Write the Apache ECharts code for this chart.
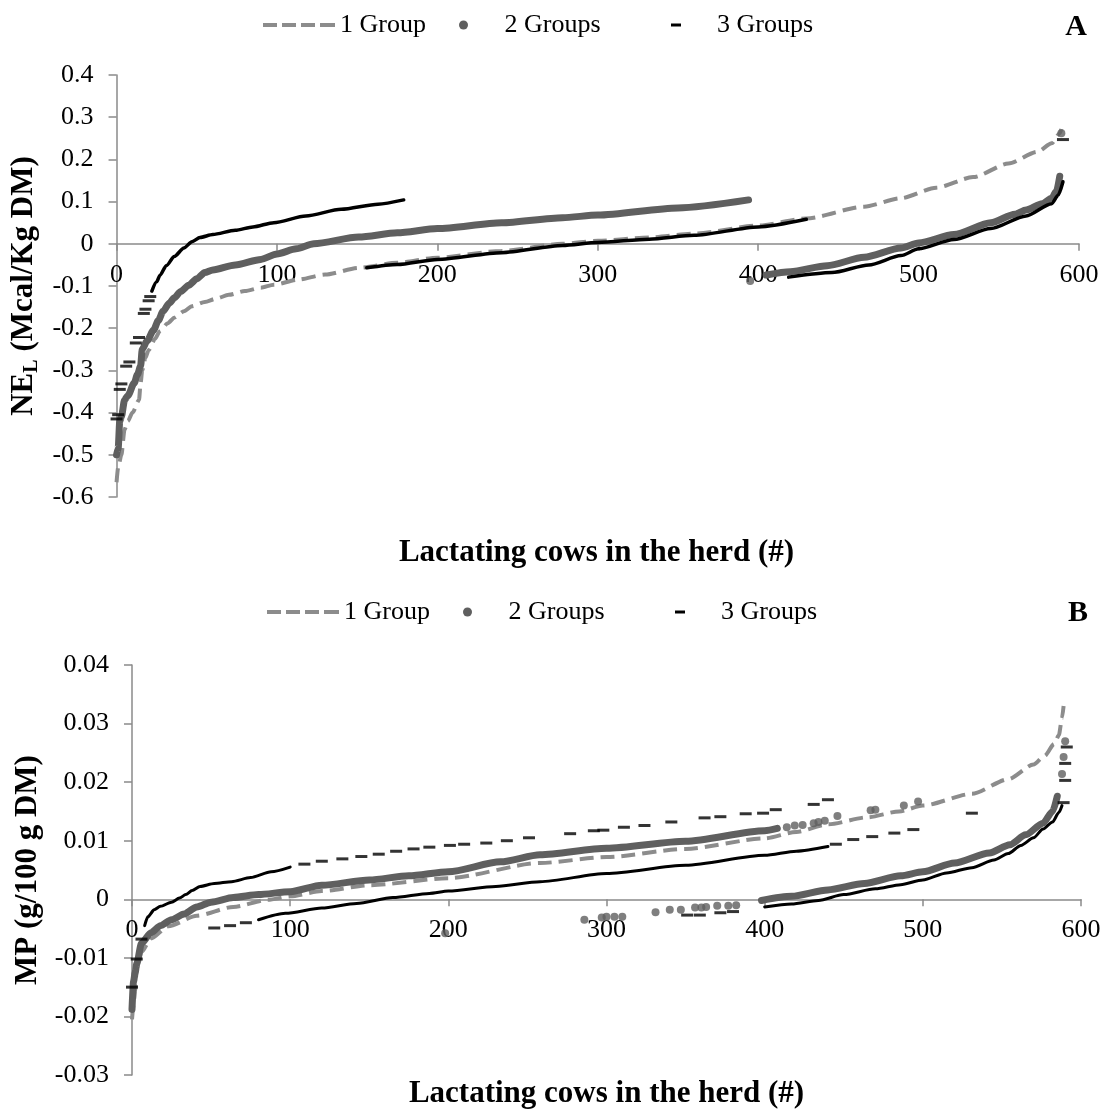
<!DOCTYPE html>
<html>
<head>
<meta charset="utf-8">
<script src="https://cdn.jsdelivr.net/npm/echarts@6/dist/echarts.min.js"></script>
<style>
  html, body { margin: 0; padding: 0; background: #ffffff; }
  #chart { width: 1104px; height: 1112px; }
</style>
</head>
<body>
<div id="chart"></div>
<script>
// Series names shared by both panels
const seriesNames = ['1 Group', '2 Groups', '3 Groups'];
const panelLetters = ['A', 'B'];
const xTitle = 'Lactating cows in the herd (#)';

// ---- Panel A: NE_L balance (Mcal/Kg DM) per cow, sorted ----
const neOneGroup = [[0,-0.565],[1,-0.53],[3,-0.5],[5,-0.44],[7,-0.42],[10,-0.4],[14,-0.37],[15,-0.33],[16,-0.3],[18,-0.27],[20,-0.252],[24,-0.225],[27,-0.207],[32,-0.188],[36,-0.175],[42,-0.16],[47,-0.148],[55,-0.138],[62,-0.13],[70,-0.121],[80,-0.112],[90,-0.104],[98,-0.097],[113,-0.085],[130,-0.073],[151,-0.057],[175,-0.045],[200,-0.033],[240,-0.017],[278,0.0],[300,0.007],[332,0.015],[360,0.024],[400,0.043],[430,0.06],[466,0.088],[489,0.108],[511,0.133],[534,0.158],[556,0.19],[574,0.218],[583,0.238],[588,0.262],[589,0.272]];
const neTwoGroupsFirst = [[0,-0.5],[1,-0.485],[2,-0.42],[3,-0.41],[5,-0.37],[7,-0.36],[11,-0.33],[13,-0.31],[15,-0.29],[16,-0.25],[19,-0.23],[23,-0.205],[26,-0.182],[29,-0.16],[33,-0.14],[36,-0.128],[40,-0.113],[45,-0.098],[50,-0.083],[55,-0.068],[60,-0.062],[74,-0.05],[90,-0.037],[100,-0.024],[112,-0.012],[123,0.0],[151,0.016],[175,0.026],[200,0.036],[240,0.05],[278,0.062],[300,0.068],[350,0.085],[394,0.104]];
const neTwoGroupsSecond = [[405,-0.074],[420,-0.066],[443,-0.052],[466,-0.032],[489,-0.01],[500,0.002],[522,0.022],[545,0.05],[560,0.07],[567,0.08],[577,0.095],[583,0.108],[586,0.125],[588,0.16]];
const neTwoGroupsDots = [[395,-0.088],[589,0.262]];
const neThreeGroupsFirst = [[22,-0.112],[25,-0.09],[27,-0.075],[31,-0.052],[36,-0.03],[42,-0.01],[47,0.005],[52,0.015],[60,0.022],[74,0.032],[85,0.04],[98,0.05],[118,0.066],[140,0.082],[163,0.094],[179,0.104]];
const neThreeGroupsSecond = [[156,-0.057],[175,-0.049],[200,-0.037],[240,-0.021],[278,-0.004],[300,0.003],[332,0.011],[360,0.02],[400,0.04],[430,0.058]];
const neThreeGroupsThird = [[419,-0.079],[446,-0.068],[469,-0.05],[489,-0.028],[500,-0.012],[522,0.01],[545,0.036],[567,0.066],[583,0.095],[587,0.115],[590,0.147]];
const neThreeGroupsDashes = [[0,-0.415],[1,-0.405],[2,-0.345],[3,-0.332],[6,-0.29],[8,-0.28],[12,-0.235],[14,-0.222],[17,-0.165],[18,-0.155],[20,-0.135],[21,-0.125],[590,0.247]];

// ---- Panel B: MP balance (g/100 g DM) per cow, sorted ----
const mpOneGroup = [[0,-0.0205],[1,-0.018],[2,-0.0155],[3,-0.0118],[6,-0.009],[12,-0.0067],[23,-0.0046],[41,-0.0028],[64,-0.0013],[86,-0.0001],[100,0.0005],[120,0.0014],[150,0.0024],[200,0.0036],[258,0.0062],[300,0.0072],[350,0.0086],[400,0.0104],[420,0.0115],[440,0.0128],[465,0.014],[485,0.015],[500,0.016],[531,0.018],[554,0.0205],[570,0.023],[577,0.0245],[583,0.0265],[586,0.028],[588,0.031],[589,0.033]];
const mpTwoGroupsFirst = [[0,-0.0188],[1,-0.014],[2,-0.0125],[3,-0.011],[6,-0.0075],[12,-0.0057],[18,-0.0045],[25,-0.0035],[33,-0.0025],[41,-0.0013],[50,-0.0005],[64,0.0003],[80,0.0008],[100,0.0013],[120,0.0024],[150,0.0033],[175,0.004],[200,0.0047],[233,0.0064],[258,0.0076],[300,0.0087],[350,0.0099],[400,0.0117],[408,0.0121]];
const mpTwoGroupsSecond = [[398,-0.0002],[417,0.0005],[440,0.0016],[463,0.0027],[486,0.004],[500,0.0047],[520,0.0062],[542,0.0079],[555,0.0093],[565,0.011],[576,0.013],[582,0.015],[585,0.0176]];
const mpTwoGroupsDots = [[198,-0.0058],[286,-0.0035],[297,-0.0031],[300,-0.003],[305,-0.003],[310,-0.003],[331,-0.0022],[340,-0.0018],[347,-0.0018],[356,-0.0014],[360,-0.0014],[363,-0.0013],[370,-0.0011],[377,-0.0011],[382,-0.001],[414,0.0123],[419,0.0126],[424,0.0127],[431,0.013],[434,0.0132],[438,0.0134],[446,0.0142],[467,0.0152],[470,0.0153],[488,0.016],[497,0.0167],[588,0.0214],[589,0.0243],[590,0.027]];
const mpThreeGroupsFirst = [[8,-0.0045],[10,-0.003],[14,-0.0018],[18,-0.0012],[25,-0.0005],[30,0.0002],[34,0.0008],[38,0.0015],[43,0.0022],[52,0.0027],[63,0.003],[75,0.0037],[88,0.0047],[100,0.0055]];
const mpThreeGroupsSecond = [[80,-0.0035],[97,-0.0024],[120,-0.0015],[142,-0.0007],[165,0.0003],[188,0.001],[200,0.0014],[230,0.0022],[258,0.003],[300,0.0044],[350,0.0058],[400,0.0075],[420,0.0082],[440,0.009]];
const mpThreeGroupsThird = [[400,-0.0013],[417,-0.0008],[434,-0.0002],[450,0.0008],[470,0.0018],[486,0.0025],[500,0.0033],[515,0.0045],[531,0.0054],[545,0.0067],[554,0.0078],[562,0.0092],[570,0.0105],[576,0.012],[582,0.0132],[586,0.0148],[588,0.016]];
const mpThreeGroupsDashes = [[0,-0.015],[3,-0.0102],[6,-0.0068],[52,-0.0049],[62,-0.0045],[72,-0.004],[109,0.006],[120,0.0065],[133,0.0069],[145,0.0073],[156,0.0077],[167,0.0082],[178,0.0086],[188,0.0089],[201,0.0092],[210,0.0094],[224,0.0096],[237,0.01],[251,0.0105],[277,0.0112],[292,0.0117],[298,0.0118],[311,0.0123],[324,0.0126],[341,0.0132],[362,0.0139],[372,0.0141],[388,0.0146],[399,0.0147],[407,0.0153],[431,0.0162],[440,0.017],[531,0.0147],[445,0.0094],[456,0.0102],[468,0.0107],[482,0.0113],[494,0.0119],[351,-0.0027],[359,-0.0027],[372,-0.0023],[380,-0.0021],[589,0.0165],[590,0.0203],[590,0.0232],[591,0.026]];

// ---- styling ----
const FONT = "'Liberation Serif', 'Times New Roman', serif";
const C_ONE = '#8c8c8c';
const C_TWO = '#5f5f5f';
const C_THREE = '#000000';
const AXIS_GREY = '#8a8a8a';

function dashedLine(name, data, idx) {
  return {
    name, type: 'line', data, xAxisIndex: idx, yAxisIndex: idx,
    symbol: 'none', smooth: 0.25, smoothMonotone: 'x',
    itemStyle: { color: C_ONE },
    lineStyle: { color: C_ONE, width: 4, type: [14, 7] },
    z: 2
  };
}
function solidLine(name, data, idx, color, width, z) {
  return {
    name, type: 'line', data, xAxisIndex: idx, yAxisIndex: idx,
    symbol: 'none', smooth: 0.25, smoothMonotone: 'x',
    itemStyle: { color },
    lineStyle: { color, width, cap: 'round', join: 'round' },
    z
  };
}
function markers(name, data, idx, color, symbol, size, z) {
  return {
    name, type: 'scatter', data, xAxisIndex: idx, yAxisIndex: idx,
    symbol, symbolSize: size, itemStyle: { color }, z
  };
}

function panelSeries(idx, d, threeWidth) {
  return [
    dashedLine(seriesNames[0], d.one, idx),
    solidLine(seriesNames[1], d.twoA, idx, C_TWO, 7, 3),
    solidLine(seriesNames[1], d.twoB, idx, C_TWO, 7, 3),
    markers(seriesNames[1], d.twoDots, idx, C_TWO, 'circle', 8, 3),
    solidLine(seriesNames[2], d.threeA, idx, C_THREE, threeWidth, 4),
    solidLine(seriesNames[2], d.threeB, idx, C_THREE, threeWidth, 4),
    solidLine(seriesNames[2], d.threeC, idx, C_THREE, threeWidth, 4),
    markers(seriesNames[2], d.threeDashes, idx, C_THREE, 'rect', [12, 3], 4)
  ];
}

const dashIcon = 'path://M0,0h14v4h-14zM19,0h14v4h-14zM38,0h14v4h-14zM57,0h15v4h-15z';
const dashMarkIcon = 'path://M0,0h10v3h-10z';

function panelLegends(top, dx) {
  const base = {
    orient: 'horizontal', top, padding: 0, itemGap: 0, itemTextGap: 6,
    selectedMode: false,
    textStyle: { fontFamily: FONT, fontSize: 26, color: '#000' }
  };
  return [
    Object.assign({}, base, { left: 263 + dx, itemWidth: 72, itemHeight: 4,
      data: [{ name: seriesNames[0], icon: dashIcon, itemStyle: { color: C_ONE, borderWidth: 0 } }] }),
    Object.assign({}, base, { left: 459 + dx, itemWidth: 72, itemHeight: 9,
      data: [{ name: seriesNames[1], icon: 'circle', itemStyle: { color: C_TWO, borderWidth: 0 } }] }),
    Object.assign({}, base, { left: 671 + dx, itemWidth: 72, itemHeight: 3,
      data: [{ name: seriesNames[2], icon: dashMarkIcon, itemStyle: { color: C_THREE, borderWidth: 0 } }] })
  ];
}

// The category axis crosses the value axis at zero: shift it up from the
// bottom edge of its grid by the share of the value range below zero.
function xAxisFor(idx, grid, yMin, yMax) {
  return {
    type: 'value', gridIndex: idx, min: 0, max: 600, interval: 100,
    position: 'bottom',
    offset: -grid.height * (0 - yMin) / (yMax - yMin),
    axisLine: { show: true, onZero: false, lineStyle: { color: AXIS_GREY, width: 1.5 } },
    axisTick: { show: true, inside: false, length: 7, lineStyle: { color: AXIS_GREY, width: 1.5 } },
    axisLabel: { margin: 18, fontFamily: FONT, fontSize: 26, color: '#000' },
    splitLine: { show: false }
  };
}
function yAxisFor(idx, min, max, interval, digits, name, nameGap, rich) {
  return {
    type: 'value', gridIndex: idx, min, max, interval,
    axisLine: { show: true, onZero: false, lineStyle: { color: AXIS_GREY, width: 1.5 } },
    axisTick: { show: true, inside: false, length: 8, lineStyle: { color: AXIS_GREY, width: 1.5 } },
    axisLabel: {
      margin: 23, fontFamily: FONT, fontSize: 26, color: '#000',
      formatter: v => String(Number(v.toFixed(digits)))
    },
    splitLine: { show: false },
    name, nameLocation: 'middle', nameGap, nameRotate: 90,
    nameTextStyle: Object.assign({ fontFamily: FONT, fontWeight: 'bold', fontSize: 31, color: '#000' }, rich ? { rich } : {})
  };
}

const panelA = { one: neOneGroup, twoA: neTwoGroupsFirst, twoB: neTwoGroupsSecond, twoDots: neTwoGroupsDots,
  threeA: neThreeGroupsFirst, threeB: neThreeGroupsSecond, threeC: neThreeGroupsThird, threeDashes: neThreeGroupsDashes };
const panelB = { one: mpOneGroup, twoA: mpTwoGroupsFirst, twoB: mpTwoGroupsSecond, twoDots: mpTwoGroupsDots,
  threeA: mpThreeGroupsFirst, threeB: mpThreeGroupsSecond, threeC: mpThreeGroupsThird, threeDashes: mpThreeGroupsDashes };

const neRich = {
  b: { fontFamily: FONT, fontWeight: 'bold', fontSize: 31, lineHeight: 36, color: '#000' },
  s: { fontFamily: FONT, fontWeight: 'bold', fontSize: 20, lineHeight: 14, verticalAlign: 'bottom', color: '#000' }
};

const gridA = { left: 114, top: 75, width: 965, height: 422 };
const gridB = { left: 132, top: 665, width: 949, height: 410 };

function textMark(text, x, y, size) {
  return {
    type: 'text', x, y, silent: true,
    style: { text, fontFamily: FONT, fontWeight: 'bold', fontSize: size, fill: '#000', align: 'center', verticalAlign: 'middle' }
  };
}

const option = {
  animation: false,
  backgroundColor: '#ffffff',
  grid: [gridA, gridB],
  legend: panelLegends(12, 0).concat(panelLegends(599, 4)),
  xAxis: [xAxisFor(0, gridA, -0.6, 0.4), xAxisFor(1, gridB, -0.03, 0.04)],
  yAxis: [
    yAxisFor(0, -0.6, 0.4, 0.1, 1, '{b|NE}{s|L}{b| (Mcal/Kg DM)}', 72, neRich),
    yAxisFor(1, -0.03, 0.04, 0.01, 2, 'MP (g/100 g DM)', 86, null)
  ],
  graphic: [
    textMark(panelLetters[0], 1076, 27, 30),
    textMark(panelLetters[1], 1078, 613, 30),
    textMark(xTitle, gridA.left + gridA.width / 2, 553, 31),
    textMark(xTitle, gridB.left + gridB.width / 2, 1094, 31)
  ],
  series: panelSeries(0, panelA, 3.5).concat(panelSeries(1, panelB, 3))
};

const chart = echarts.init(document.getElementById('chart'), null, { renderer: 'canvas' });
chart.setOption(option);
</script>
</body>
</html>
